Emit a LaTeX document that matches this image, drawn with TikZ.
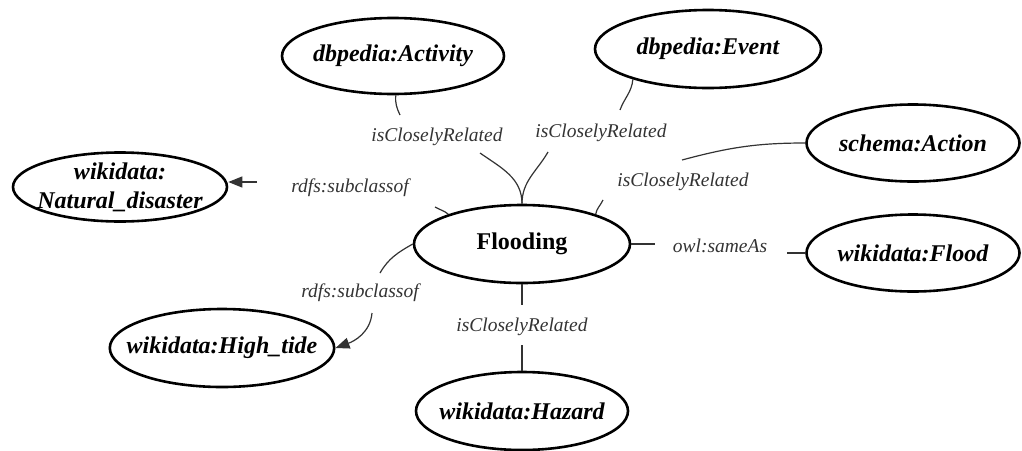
\documentclass[tikz,border=0pt]{standalone}
\usepackage{fontspec}
\setmainfont{Liberation Serif}
\usetikzlibrary{shapes.geometric, arrows.meta}

\begin{document}
\begin{tikzpicture}[x=0.5pt, y=-0.5pt,
    concept/.style={draw, ellipse, line width=1.3pt, inner sep=-8pt, align=center,
        font=\fontsize{12}{14.5}\selectfont\bfseries\itshape},
    rel/.style={font=\fontsize{9.75}{11}\selectfont\itshape, text=black!80},
    link/.style={draw=black!80, line width=0.6pt},
    isa/.style={link, -{Triangle[length=7pt, width=5.5pt]}}]
    \useasboundingbox (0, 0) rectangle (1022, 450);
    % \draw[help lines, step=50] (0, 0) grid (1022, 450);

    % concepts
    \node[concept, minimum width=108pt, minimum height=39pt,
        font=\fontsize{12}{14.5}\selectfont\bfseries] (flooding) at (522, 244) {Flooding};
    \node[concept, minimum width=111pt, minimum height=38pt] (activity) at (393, 56) {dbpedia:Activity};
    \node[concept, minimum width=113pt, minimum height=39pt] (event) at (708, 49) {dbpedia:Event};
    \node[concept, minimum width=106.5pt, minimum height=38.5pt] (action) at (913, 143) {schema:Action};
    \node[concept, minimum width=106.5pt, minimum height=38.5pt] (wflood) at (913, 253) {wikidata:Flood};
    \node[concept, minimum width=107pt, minimum height=34.5pt] (natdis) at (120, 187) {wikidata:\\Natural\_disaster};
    \node[concept, minimum width=110pt, minimum height=39pt] (hightide) at (222, 348) {wikidata:High\_tide};
    \node[concept, minimum width=106pt, minimum height=39pt] (hazard) at (522, 411) {wikidata:Hazard};

    % edge labels
    \node[rel] (lactivity) at (437, 137) {isCloselyRelated};
    \node[rel] (levent) at (601, 133) {isCloselyRelated};
    \node[rel] (laction) at (683, 182) {isCloselyRelated};
    \node[rel] (lnatdis) at (350, 188) {rdfs:subclassof};
    \node[rel] (lhightide) at (360, 293) {rdfs:subclassof};
    \node[rel] (lsame) at (720, 246) {owl:sameAs};
    \node[rel] (lhazard) at (522, 327) {isCloselyRelated};

    % ends of the edges beside the labels
    \coordinate (act1) at (400, 115);
    \coordinate (act2) at (480, 153);
    \coordinate (ev1) at (620, 110);
    \coordinate (ev2) at (548, 152);
    \coordinate (ac1) at (603, 200);
    \coordinate (ac2) at (682, 160);
    \coordinate (nd1) at (435, 207);
    \coordinate (nd2) at (257, 182);
    \coordinate (ht1) at (380, 273);
    \coordinate (ht2) at (372, 313);
    \coordinate (sa1) at (655, 244);
    \coordinate (sa2) at (787, 253);
    \coordinate (hz1) at (522, 305);
    \coordinate (hz2) at (522, 345);

    % isCloselyRelated
    \draw[link] (activity.-86) to[out=-95, in=115] (act1);
    \draw[link] (act2) to[out=-35, in=90] (flooding.north);
    \draw[link] (event.202) to[out=-95, in=70] (ev1);
    \draw[link] (ev2) to[out=-120, in=90] (flooding.north);
    \draw[link] (flooding.22) to[out=80, in=-115] (ac1);
    \draw[link] (ac2) to[out=15, in=180] (action.west);
    \draw[link] (flooding.south) -- (hz1);
    \draw[link] (hz2) -- (hazard.north);

    % rdfs:subclassof
    \draw[link] (flooding.158) to[out=140, in=-30] (nd1);
    \draw[isa] (nd2) -- (nd2 -| natdis.east);
    \draw[link] (flooding.west) to[out=-150, in=60] (ht1);
    \draw[isa] (ht2) to[out=-95, in=20] (hightide.east);

    % owl:sameAs
    \draw[link] (flooding.east) -- (sa1);
    \draw[link] (sa2) -- (wflood.west);
\end{tikzpicture}
\end{document}
